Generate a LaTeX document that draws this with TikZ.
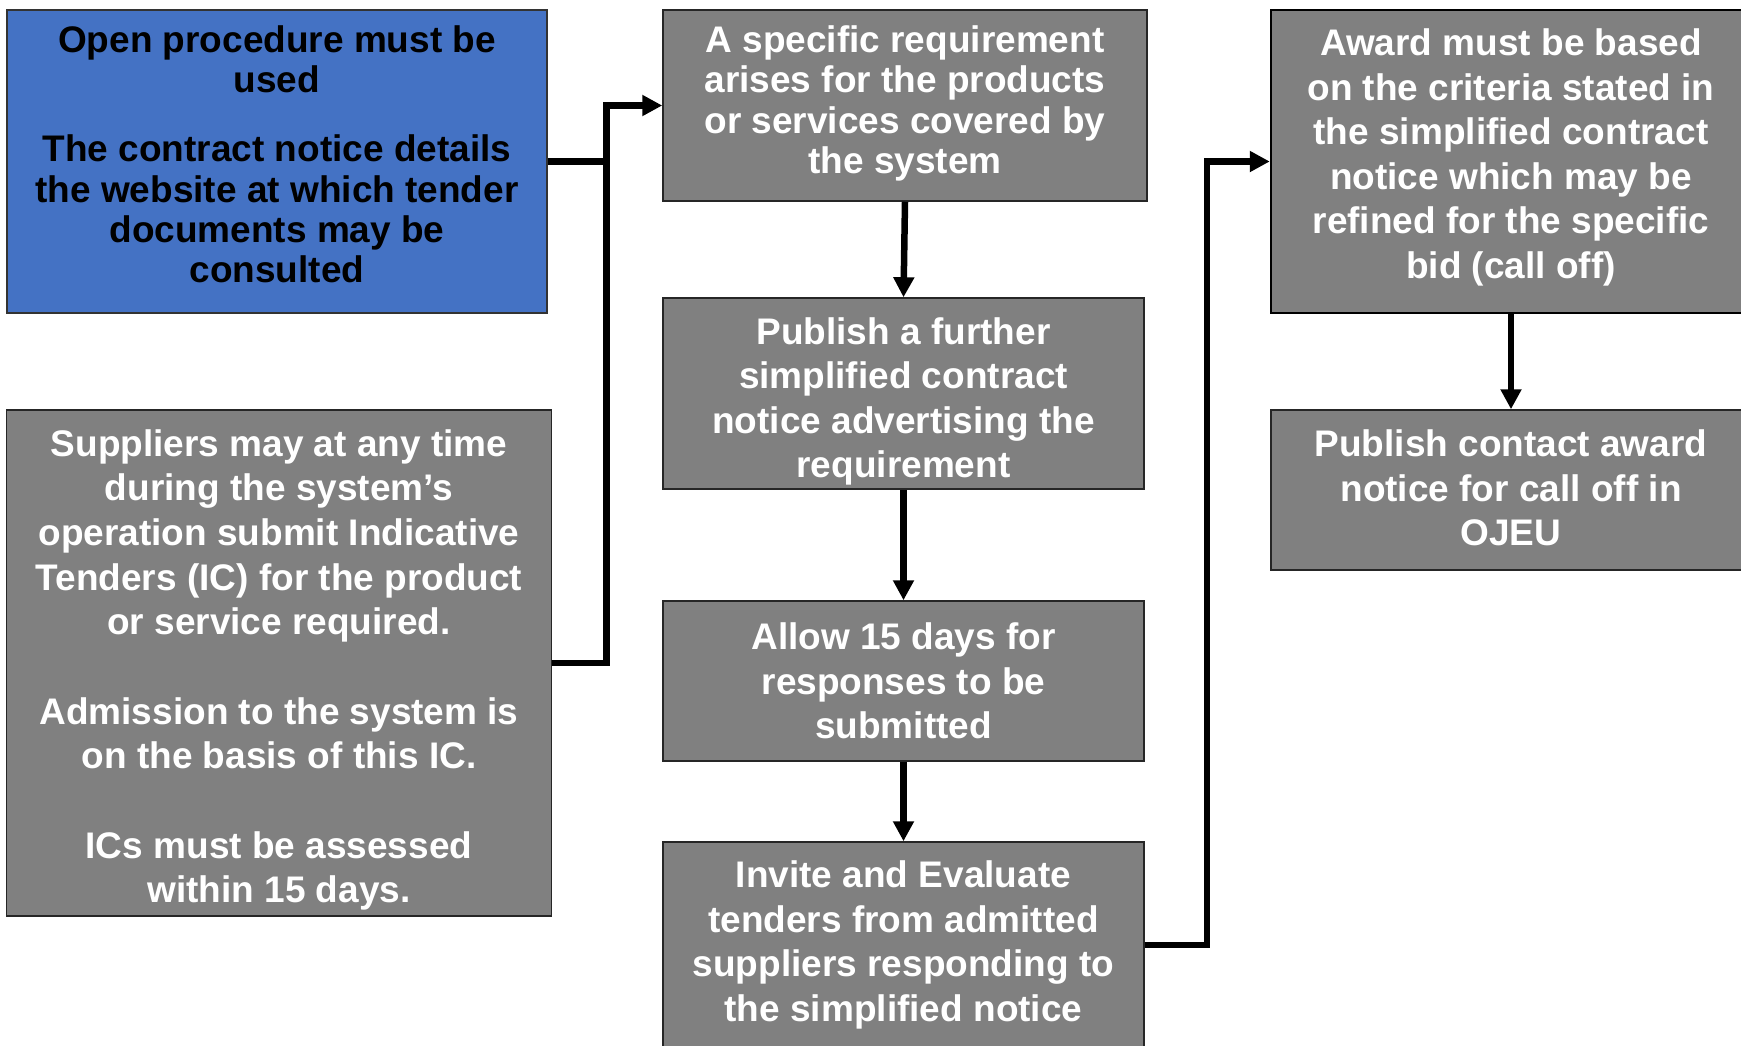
\documentclass[tikz,border=0pt]{standalone}
\usepackage{fontspec}
\setmainfont{Liberation Sans}
\usetikzlibrary{arrows.meta}
\definecolor{boxblue}{RGB}{68,114,196}
\definecolor{boxgrey}{RGB}{128,128,128}
\tikzset{
  stepbox/.style={draw=black!85, line width=1.5pt, fill=boxgrey, inner sep=0pt},
  startbox/.style={stepbox, fill=boxblue, draw=black!80, line width=1.2pt},
  steptext/.style={text=white, inner sep=0pt, align=center,
    font=\fontsize{37}{44.6}\selectfont\bfseries},
  tighttext/.style={steptext, font=\fontsize{37}{40.3}\selectfont\bfseries},
  conn/.style={line width=6.5pt, draw=black},
  flow/.style={conn, -{Triangle[length=20pt,width=20pt]}}
}
\begin{document}
\begin{tikzpicture}[x=1pt, y=-1pt]
\useasboundingbox (0,0) rectangle (1741,1045);
\clip (0,0) rectangle (1741,1045);

% left column: boxes
\node[startbox, minimum width=540pt, minimum height=303pt] (open) at (277,161.5) {};
\node[stepbox, minimum width=545pt, minimum height=506pt] (sup) at (279,663) {};
% middle column: boxes
\node[stepbox, minimum width=484pt, minimum height=191pt] (req) at (905,105.5) {};
\node[stepbox, minimum width=481pt, minimum height=191pt] (pub) at (903.5,393.5) {};
\node[stepbox, minimum width=481pt, minimum height=160pt] (allow) at (903.5,681) {};
\node[stepbox, minimum width=481pt, minimum height=206pt] (invite) at (903.5,945) {};
% right column: boxes
\node[stepbox, draw=black, line width=2.5pt, minimum width=480pt, minimum height=303pt] (award) at (1511,161.5) {};
\node[stepbox, minimum width=480pt, minimum height=160pt] (notice) at (1511,490) {};

% box texts (yshift is in page direction: positive moves up)
\node[tighttext, text=black] (open-t) at ([yshift=7pt]open.center)
  {Open procedure must be\\used\\[28.6pt]The contract notice details\\the website at which tender\\documents may be\\consulted};
\node[steptext] (sup-t) at ([yshift=-7pt]sup.center)
  {Suppliers may at any time\\during the system’s\\operation submit Indicative\\Tenders (IC) for the product\\or service required.\\[44.8pt]Admission to the system is\\on the basis of this IC.\\[44.8pt]ICs must be assessed\\within 15 days.};
\node[tighttext] (req-t) at ([yshift=2pt]req.center)
  {A specific requirement\\arises for the products\\or services covered by\\the system};
\node[steptext] (pub-t) at ([yshift=-8pt]pub.center)
  {Publish a further\\simplified contract\\notice advertising the\\requirement};
\node[steptext] (allow-t) at (allow.center)
  {Allow 15 days for\\responses to be\\submitted};
\node[steptext] (invite-t) at (invite.center)
  {Invite and Evaluate\\tenders from admitted\\suppliers responding to\\the simplified notice};
\node[steptext] (award-t) at ([yshift=4pt]award.center)
  {Award must be based\\on the criteria stated in\\the simplified contract\\notice which may be\\refined for the specific\\bid (call off)};
\node[steptext] (notice-t) at ([yshift=2pt]notice.center)
  {Publish contact award\\notice for call off in\\OJEU};

% connectors
\coordinate (jn) at (606.5,105.5);
\coordinate (jr) at (1207,161.5);
\draw[conn] (open.east) -- (open.east -| jn);
\draw[flow] (sup.east) -| (jn) -- (req.west);
\draw[flow] (req.south) -- (pub.north);
\draw[flow] (pub.south) -- (allow.north);
\draw[flow] (allow.south) -- (invite.north);
\draw[flow] (invite.east) -| (jr) -- (award.west);
\draw[flow] (award.south) -- (notice.north);
\end{tikzpicture}
\end{document}
